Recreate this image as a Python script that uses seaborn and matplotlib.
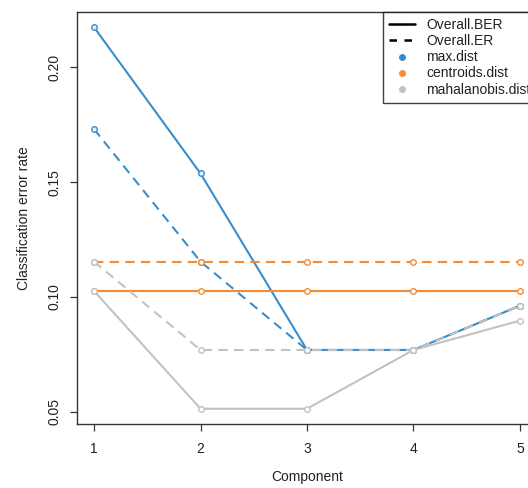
import numpy as np
import pandas as pd
import matplotlib
matplotlib.use("Agg")
import matplotlib.pyplot as plt
from matplotlib.lines import Line2D
import seaborn as sns

# Classification error rate per component for each distance
components = [1, 2, 3, 4, 5]
max_ber = [0.2175, 0.1538, 0.0769, 0.0769, 0.0962]
max_er = [0.1731, 0.1154, 0.0769, 0.0769, 0.0962]
cen_ber = [0.1026, 0.1026, 0.1026, 0.1026, 0.1026]
cen_er = [0.1154, 0.1154, 0.1154, 0.1154, 0.1154]
mah_ber = [0.1026, 0.0513, 0.0513, 0.0769, 0.0897]
mah_er = [0.1154, 0.0769, 0.0769, 0.0769, 0.0962]

distances = ["max.dist", "centroids.dist", "mahalanobis.dist"]
measures = ["Overall.BER", "Overall.ER"]
colors = ["#388ECC", "#F68B33", "#C2C2C2"]
yticks = [0.05, 0.10, 0.15, 0.20]

series = {
    ("max.dist", "Overall.BER"): max_ber,
    ("max.dist", "Overall.ER"): max_er,
    ("centroids.dist", "Overall.BER"): cen_ber,
    ("centroids.dist", "Overall.ER"): cen_er,
    ("mahalanobis.dist", "Overall.BER"): mah_ber,
    ("mahalanobis.dist", "Overall.ER"): mah_er,
}
rows = []
for (dist, meas), vals in series.items():
    for c, v in zip(components, vals):
        rows.append({"Component": c, "rate": v, "distance": dist, "measure": meas})
df = pd.DataFrame(rows)

sns.set_style("white")
plt.rcParams["font.family"] = ["Liberation Sans", "DejaVu Sans"]
plt.rcParams["font.size"] = 10

fig = plt.figure(figsize=(5.28, 4.88), dpi=100)
ax = fig.add_axes([77 / 528, 1 - 424 / 488, 460 / 528, 412 / 488])

sns.lineplot(
    data=df, x="Component", y="rate", hue="distance", style="measure",
    hue_order=distances, style_order=measures,
    palette=dict(zip(distances, colors)),
    dashes={"Overall.BER": "", "Overall.ER": (4.5, 3)},
    markers={"Overall.BER": "o", "Overall.ER": "o"},
    linewidth=1.5, markersize=4, legend=False, ax=ax,
)
for ln in ax.lines:
    ln.set_markeredgecolor(ln.get_color())
    ln.set_markerfacecolor("#e6eef6" if ln.get_color() == colors[0] else "white")
    ln.set_markeredgewidth(1.0)

lo, hi = 0.0513, 0.2175
pad = 0.04 * (hi - lo)
ax.set_ylim(lo - pad, hi + pad)
ax.set_xlim(0.84, 5.16)
ax.set_xticks(components)
ax.set_xticklabels([str(c) for c in components])
ax.set_yticks(yticks)
ax.set_yticklabels([f"{t:.2f}" for t in yticks], rotation=90, va="center")
ax.tick_params(axis="both", direction="out", length=5, width=0.9, color="#333333",
               labelsize=10, labelcolor="#222222", left=True, bottom=True)
ax.tick_params(axis="x", pad=8)
ax.tick_params(axis="y", pad=6)
for s in ax.spines.values():
    s.set_visible(True)
    s.set_color("#333333")
    s.set_linewidth(1.0)
ax.set_xlabel("Component", fontsize=10, color="#222222", labelpad=10)
ax.set_ylabel("Classification error rate", fontsize=10, color="#222222", labelpad=12)

handles = [
    Line2D([], [], color="black", lw=1.8, ls="-"),
    Line2D([], [], color="black", lw=1.8, ls=(0, (3, 3))),
] + [Line2D([], [], color=c, marker="o", ls="none", markersize=4) for c in colors]
labels = measures + distances
leg = ax.legend(handles, labels, loc="upper right", bbox_to_anchor=(1, 1),
                borderaxespad=0, frameon=True, fancybox=False, fontsize=10,
                handlelength=1.9, handletextpad=0.8, labelspacing=0.15,
                borderpad=0.45)
leg.get_frame().set_edgecolor("#111111")
leg.get_frame().set_linewidth(1.0)
for t in leg.get_texts():
    t.set_color("#222222")

fig.savefig("out.png", dpi=100)
